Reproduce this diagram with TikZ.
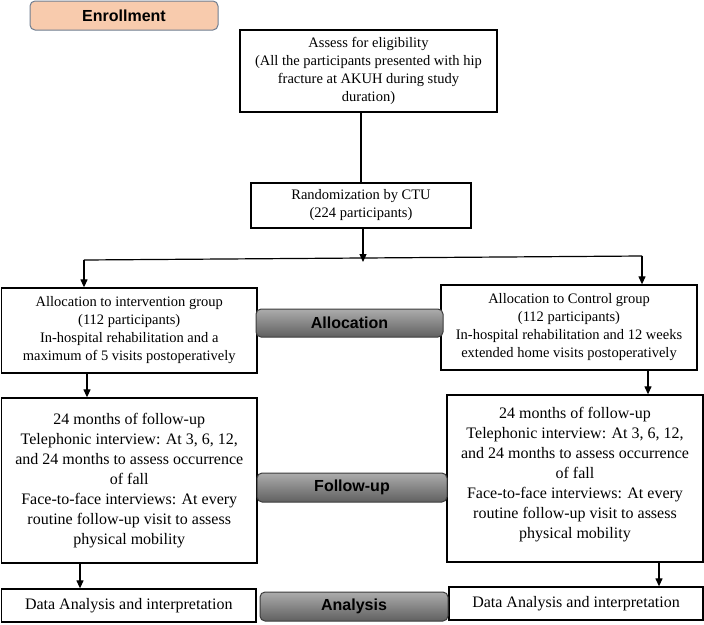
\documentclass[tikz,border=0pt]{standalone}
\usepackage{fontspec}
\setmainfont{Liberation Serif}
\newfontfamily\labelfont{Liberation Sans}
\usetikzlibrary{arrows.meta}
\definecolor{peach}{RGB}{248,203,173}
\definecolor{peachedge}{RGB}{110,125,145}
\definecolor{gtop}{RGB}{172,172,172}
\definecolor{gbot}{RGB}{96,96,96}
\definecolor{gedge}{RGB}{60,60,60}
\begin{document}
\begin{tikzpicture}[x=1pt,y=-1pt,
  box/.style={draw=black, line width=1.3pt, inner sep=0pt, align=center, font=\fontsize{14.5}{18}\selectfont},
  bigbox/.style={box, font=\fontsize{16}{20}\selectfont},
  phase/.style={draw=gedge, line width=1pt, rounded corners=5pt, top color=gtop, bottom color=gbot, inner sep=0pt, font=\labelfont\bfseries\fontsize{16}{19}\selectfont},
  enroll/.style={draw=peachedge, line width=1pt, rounded corners=5pt, fill=peach, inner sep=0pt, font=\labelfont\bfseries\fontsize{16}{19}\selectfont},
  conn/.style={line width=1.2pt},
  arr/.style={line width=1.2pt, -{Triangle[length=8pt,width=7pt]}}
]
\useasboundingbox (0,0) rectangle (704,624);

\node[enroll, minimum width=188pt, minimum height=29pt] (enr) at (124,15.5) {Enrollment};

\node[box, minimum width=257pt, minimum height=82pt] (assess) at (368.5,71)
  {Assess for eligibility\\(All the participants presented with hip\\fracture at AKUH during study\\duration)};
\node[box, minimum width=220pt, minimum height=45pt] (rand) at (361,205.5)
  {Randomization by CTU\\(224 participants)};

\node[box, minimum width=255.5pt, minimum height=85pt] (allocL) at (129.25,330.5)
  {Allocation to intervention group\\(112 participants)\\In-hospital rehabilitation and a\\maximum of 5 visits postoperatively};
\node[box, minimum width=256pt, minimum height=85pt] (allocR) at (569,327.5)
  {Allocation to Control group\\(112 participants)\\In-hospital rehabilitation and 12 weeks\\extended home visits postoperatively};

\node[bigbox, minimum width=255.5pt, minimum height=165pt] (followL) at (129.25,480.5)
  {24 months of follow-up\\Telephonic interview: At 3, 6, 12,\\and 24 months to assess occurrence\\of fall\\Face-to-face interviews: At every\\routine follow-up visit to assess\\physical mobility};
\node[bigbox, minimum width=256pt, minimum height=167pt] (followR) at (575,478.5)
  {24 months of follow-up\\Telephonic interview: At 3, 6, 12,\\and 24 months to assess occurrence\\of fall\\Face-to-face interviews: At every\\routine follow-up visit to assess\\physical mobility\\[-8pt]\mbox{}};

\node[bigbox, minimum width=254.5pt, minimum height=33pt] (dataL) at (128.75,605.5)
  {Data Analysis and interpretation};
\node[bigbox, minimum width=254pt, minimum height=33pt] (dataR) at (576,603.5)
  {Data Analysis and interpretation};

\node[phase, minimum width=187pt, minimum height=28pt] (allocation) at (349.5,323) {Allocation};
\node[phase, minimum width=190pt, minimum height=29pt] (followup) at (352,487.5) {Follow-up};
\node[phase, minimum width=188pt, minimum height=29pt] (analysis) at (354,606.5) {Analysis};

\coordinate (jl) at (84,260);
\coordinate (jr) at (642,256);
\coordinate (c1) at (87,0);
\coordinate (c2) at (80,0);
\coordinate (c3) at (648,0);
\coordinate (c4) at (659,0);

\draw[conn] (rand.north |- assess.south) -- (rand.north);
\draw[arr] ([xshift=2pt]rand.south) -- ([xshift=2pt,yshift=-2pt]rand.south |- jl);
\draw[conn] (jl) -- (jr);
\draw[arr] (jl) -- (jl |- allocL.north);
\draw[arr] (jr) -- (jr |- allocR.north);
\draw[arr] (allocL.south -| c1) -- (followL.north -| c1);
\draw[arr] (followL.south -| c2) -- (dataL.north -| c2);
\draw[arr] (allocR.south -| c3) -- (followR.north -| c3);
\draw[arr] (followR.south -| c4) -- (dataR.north -| c4);
\end{tikzpicture}
\end{document}
